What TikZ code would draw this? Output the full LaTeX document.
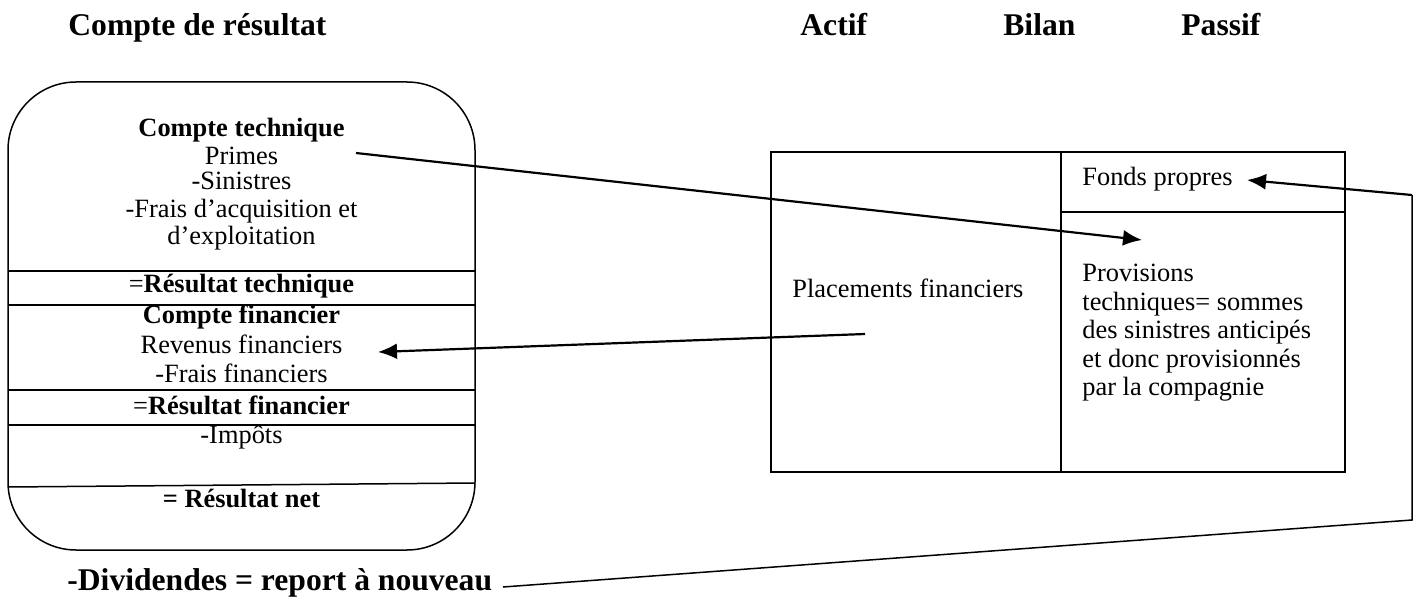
\documentclass[tikz,border=0pt]{standalone}
\usepackage{fontspec}
\setmainfont{Liberation Serif}
\usetikzlibrary{arrows.meta}
\begin{document}
\begin{tikzpicture}[x=0.5pt,y=-0.5pt,
  frame/.style={line width=0.75pt},
  link/.style={line width=1.1pt,-{Latex[length=9.5pt,width=8pt]}},
  plain/.style={line width=0.75pt},
  heading/.style={anchor=base west,inner sep=0pt,font=\fontsize{15.8}{18}\selectfont\bfseries},
  entry/.style={anchor=base,inner sep=0pt,font=\fontsize{13.2}{15}\selectfont},
  bentry/.style={entry,font=\fontsize{13.2}{15}\selectfont\bfseries},
  lentry/.style={anchor=base west,inner sep=0pt,font=\fontsize{13.2}{15}\selectfont},
]
\useasboundingbox (0,0) rectangle (1419,599);

% headings
\node[heading] (hcr) at (68,36) {Compte de résultat};
\node[heading] (hact) at (800,36) {Actif};
\node[heading] (hbil) at (1003,36) {Bilan};
\node[heading] (hpas) at (1181,36) {Passif};

% income statement
\node[draw,frame,rounded corners=34pt,minimum width=233.5pt,minimum height=234pt,inner sep=0pt] (cr) at (241.5,316) {};
\draw[frame] (8,271) -- (475,271);
\draw[frame] (8,305) -- (475,305);
\draw[frame] (8,390) -- (475,390);
\draw[frame] (8,425) -- (475,425);
\draw[frame] (8,487) -- (475,483);

\node[bentry] (ct) at (241.5,137) {Compte technique};
\node[entry] (pr) at (241.5,164) {Primes};
\node[entry] (si) at (241.5,190) {-Sinistres};
\node[entry] (fa) at (241.5,217) {-Frais d’acquisition et};
\node[entry] (ex) at (241.5,244) {d’exploitation};
\node[entry] (rt) at (241.5,292) {=\textbf{Résultat technique}};
\node[bentry] (cf) at (241.5,323) {Compte financier};
\node[entry] (rf) at (241.5,353) {Revenus financiers};
\node[entry] (ff) at (241.5,382) {-Frais financiers};
\node[entry] (rfi) at (241.5,414) {=\textbf{Résultat financier}};
\node[entry] (im) at (241.5,443) {-Impôts};
\node[bentry] (rn) at (241.5,507) {= Résultat net};

\node[heading] (div) at (67,590) {-Dividendes = report à nouveau};

% balance sheet
\node[draw,frame,minimum width=287pt,minimum height=160pt,inner sep=0pt] (bil) at (1058,312) {};
\draw[frame] (1061,152) -- (1061,472);
\draw[frame] (1061,212) -- (1345,212);

\node[lentry] (pf) at (792,297) {Placements financiers};
\node[lentry] (fp) at (1082,185) {Fonds propres};
\node[lentry,align=left,font=\fontsize{13.2}{14.25}\selectfont,anchor=north west] (pt) at (1082,264)
  {Provisions\\techniques= sommes\\des sinistres anticipés\\et donc provisionnés\\par la compagnie};

% flows between the two statements
\coordinate (a1s) at (356,153);
\coordinate (a1e) at (1142,240);
\coordinate (a2s) at (865,334);
\coordinate (a2e) at (378,352);
\coordinate (a3s) at (503,587);
\coordinate (a3b) at (1412,520);
\coordinate (a3t) at (1412,195);
\coordinate (a3e) at (1247,180);

\draw[link] (a1s) -- (a1e);
\draw[link] (a2s) -- (a2e);
\draw[plain] (a3s) -- (a3b) -- (a3t);
\draw[link] (a3t) -- (a3e);
\end{tikzpicture}
\end{document}
